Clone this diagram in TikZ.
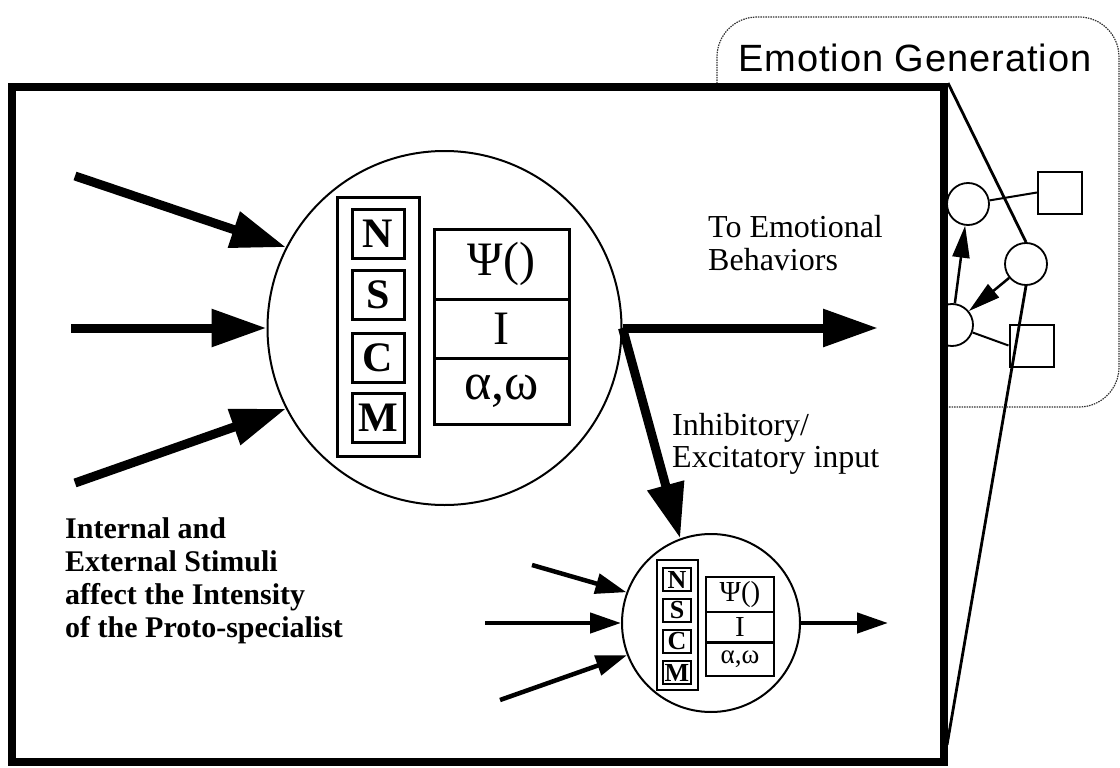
\documentclass[tikz,border=0pt]{standalone}
\usepackage{fontspec}
\setmainfont{Liberation Serif}
\newfontfamily\titlefont[LetterSpace=2.5]{Liberation Sans}
\usetikzlibrary{arrows.meta,calc}
\newcommand{\setfs}[2]{\fontsize{#1}{#2}\selectfont}

\begin{document}
\begin{tikzpicture}[x=1pt,y=-1pt,
  thickarrow/.style={line width=9pt,-{Triangle[length=55pt,width=36pt]}},
  thinarrow/.style={line width=4.5pt,-{Triangle[length=31pt,width=20pt]}},
  netarrow/.style={line width=2.5pt,-{Triangle[length=32pt,width=17pt]}},
  ring/.style={circle,draw,line width=2pt,inner sep=0pt,fill=white},
  netcircle/.style={circle,draw,line width=1.8pt,minimum size=42pt,inner sep=0pt,fill=white},
  netsquare/.style={draw,line width=2pt,minimum width=44pt,minimum height=42pt,inner sep=0pt,fill=white},
  panel/.style={draw,line width=3pt,inner sep=0pt},
  lbox/.style={draw,line width=3pt,minimum width=52pt,minimum height=49pt,inner sep=0pt,font=\bfseries\setfs{42}{42}},
  tcell/.style={draw,line width=3pt,minimum width=135pt,inner sep=0pt,font=\setfs{48}{48}},
  slbox/.style={draw,line width=2pt,minimum width=28pt,minimum height=23pt,inner sep=0pt,font=\bfseries\setfs{26}{26}},
  scell/.style={draw,line width=2pt,minimum width=68pt,inner sep=0pt,font=\setfs{29}{29}},
  label/.style={anchor=base west,align=left,inner sep=0pt}
]
\useasboundingbox (0,0) rectangle (1120,768);

% Emotion generation area
\draw[line width=1.2pt,black!80,dash pattern=on 1.5pt off 1pt,rounded corners=40pt] (717,17) rectangle (1119,407);

% network inside the emotion generation area
\node[netcircle] (ca) at (968,204) {};
\node[netcircle] (cb) at (1026,264) {};
\node[netcircle] (cc) at (952,325) {};
\node[netsquare] (sa) at (1060,192.5) {};
\node[netsquare] (sb) at (1031.5,345.5) {};
\draw[line width=2pt] (ca) -- (sa.west);
\draw[line width=2pt] (cc) -- (sb.west);
\draw[netarrow] (cc) -- (ca);
\draw[netarrow] (cb) -- (cc);

% proto-specialist frame
\node[draw,line width=8pt,fill=white,minimum width=932.5pt,minimum height=675pt,inner sep=0pt] (frame) at (477.75,424.5) {};

% lines linking the frame to one network node
\coordinate (lowend) at (947,745);
\draw[line width=2.8pt] (frame.north east) -- (cb.north);
\draw[line width=2.8pt] (cb.south) -- (lowend);

\node[label,font=\titlefont\setfs{38}{38}] (egtitle) at (738,72) {Emotion Generation};

% large proto-specialist
\node[ring,minimum size=354pt] (big) at (444.5,328) {};
\node[panel,minimum width=82pt,minimum height=259pt] (bpanel) at (378,326.5) {};
\node[lbox] (bn) at (378,233.5) {N};
\node[lbox] (bs) at (378,295) {S};
\node[lbox] (bc) at (378,357.5) {C};
\node[lbox] (bm) at (378,418) {M};
\node[tcell,minimum height=70pt] (br1) at (501.5,264) {Ψ()};
\node[tcell,minimum height=59pt] (br2) at (501.5,328.5) {I};
\node[tcell,minimum height=66pt,font=\setfs{52}{52}] (br3) at (501.5,391) {α,ω};

\coordinate (in1) at (75,176);
\coordinate (in2) at (71,328);
\coordinate (in3) at (75,483);
\coordinate (out1) at (878,328);
\draw[thickarrow] (in1) -- (big.153);
\draw[thickarrow] (in2) -- (big.west);
\draw[thickarrow] (in3) -- (big.207);
\draw[thickarrow] (big.east) -- (out1);

% small proto-specialist
\node[ring,minimum size=178pt] (small) at (711,623) {};
\node[panel,line width=2pt,minimum width=41pt,minimum height=130pt] (spanel) at (677.5,625) {};
\node[slbox] (sn) at (677,579.5) {N};
\node[slbox] (ss) at (677,610.5) {S};
\node[slbox] (sc) at (677,641.5) {C};
\node[slbox] (sm) at (677,672.5) {M};
\node[scell,minimum height=35pt] (sr1) at (740,594.5) {Ψ()};
\node[scell,minimum height=30pt] (sr2) at (740,627) {I};
\node[scell,minimum height=33pt,font=\setfs{27}{27}] (sr3) at (740,659.5) {α,ω};

\draw[thickarrow] (big.east) -- (small.110);

\coordinate (sin1) at (532,565);
\coordinate (sin2) at (485,623);
\coordinate (sin3) at (500,700);
\coordinate (sout) at (888,623);
\draw[thinarrow] (sin1) -- (small.160);
\draw[thinarrow] (sin2) -- (small.west);
\draw[thinarrow] (sin3) -- (small.201);
\draw[thinarrow] (small.east) -- (sout);

% labels (anchored at the baseline of their last line)
\node[label,font=\setfs{32}{33}] (toemo) at (708,270) {To Emotional\\Behaviors};
\node[label,font=\setfs{32}{32}] (inhib) at (672,467) {Inhibitory/\\Excitatory input};
\node[label,font=\bfseries\setfs{30}{33}] (stim) at (65,637) {Internal and\\External Stimuli\\affect the Intensity\\of the Proto-specialist};
\end{tikzpicture}
\end{document}
